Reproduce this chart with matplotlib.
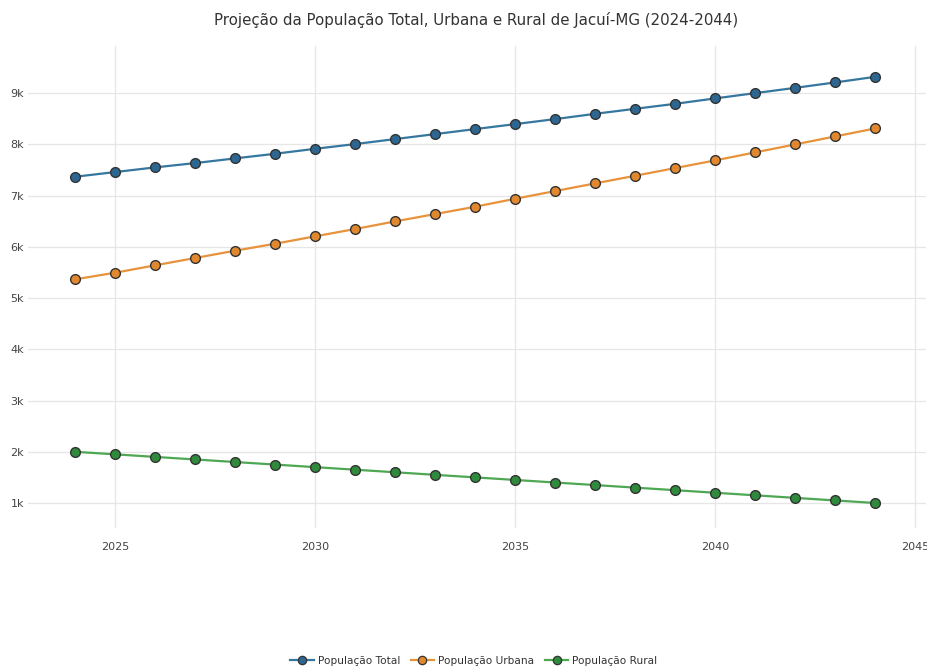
import matplotlib
matplotlib.use("Agg")
import matplotlib.pyplot as plt
from matplotlib.ticker import FuncFormatter, FixedLocator
from matplotlib.lines import Line2D

plt.rcParams['font.family'] = ['DejaVu Sans']

anos = list(range(2024, 2045))
pop_total = [7367, 7459, 7550, 7634, 7726, 7816, 7913, 8005, 8103, 8200, 8298,
             8395, 8493, 8596, 8694, 8791, 8897, 9000, 9103, 9209, 9318]
pop_urbana = [5365, 5494, 5638, 5781, 5924, 6060, 6204, 6347, 6496, 6639, 6782,
              6938, 7088, 7238, 7387, 7537, 7687, 7843, 7999, 8155, 8311]
pop_rural = [2000, 1950, 1900, 1850, 1800, 1750, 1700, 1650, 1600, 1550, 1500,
             1450, 1400, 1350, 1300, 1250, 1200, 1150, 1100, 1050, 1000]

series = [
    ("População Total", pop_total, "#3677a0", "#2d6690"),
    ("População Urbana", pop_urbana, "#e8923c", "#e0882f"),
    ("População Rural", pop_rural, "#4ea853", "#2f8a3c"),
]

titulo = "Projeção da População Total, Urbana e Rural de Jacuí-MG (2024-2044)"
x_ticks = [2025, 2030, 2035, 2040, 2045]
y_ticks = [1000, 2000, 3000, 4000, 5000, 6000, 7000, 8000, 9000]

fig = plt.figure(figsize=(9.28, 6.72), dpi=100)
ax = fig.add_axes([28 / 928, 1 - 528 / 672, (926 - 28) / 928, (528 - 46) / 672])

handles = []
for nome, valores, cor_linha, cor_marcador in series:
    ax.plot(anos, valores, color=cor_linha, lw=1.6, zorder=3,
            marker="o", ms=7.0, mfc=cor_marcador, mec="#333333", mew=1.0)
    handles.append(Line2D([], [], color=cor_linha, lw=1.6, marker="o", ms=6,
                          mfc=cor_marcador, mec="#333333", mew=0.9, label=nome))

ax.set_xlim(2022.83, 2045.27)
ax.set_ylim(512, 9920)
ax.xaxis.set_major_locator(FixedLocator(x_ticks))
ax.yaxis.set_major_locator(FixedLocator(y_ticks))
ax.yaxis.set_major_formatter(FuncFormatter(lambda v, p: f"{v / 1000:.0f}k"))

ax.grid(True, color="#e6e6e6", lw=0.9, zorder=0)
ax.set_axisbelow(True)
for s in ax.spines.values():
    s.set_visible(False)
ax.tick_params(axis="both", length=0, labelsize=8, labelcolor="#444444")
ax.tick_params(axis="x", pad=10)
ax.tick_params(axis="y", pad=3)

fig.text(476 / 928, 1 - 20 / 672, titulo, ha="center", va="center",
         fontsize=10.8, color="#333333")

fig.legend(handles=handles, loc="center", bbox_to_anchor=(474 / 928, 1 - 661 / 672),
           ncol=3, frameon=False, fontsize=7.6, handlelength=2.2,
           columnspacing=1.0, handletextpad=0.4, labelcolor="#333333")

fig.savefig("out.png", dpi=100, facecolor="white")
